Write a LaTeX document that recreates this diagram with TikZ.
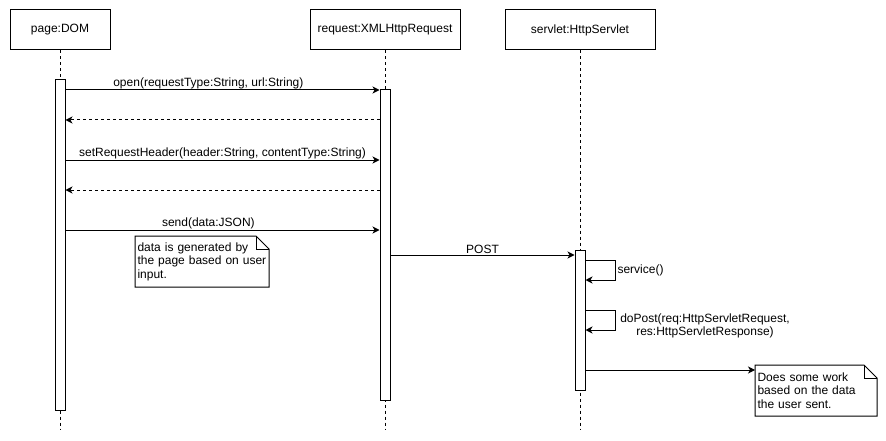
\documentclass[tikz,border=0pt]{standalone}
\usepackage{fontspec}
\setmainfont{Liberation Sans}
\usetikzlibrary{arrows.meta}
\begin{document}
\begin{tikzpicture}[x=1pt,y=-1pt,line width=1pt,
  font=\fontsize{12}{13.5}\selectfont,
  head/.style={draw,fill=white,minimum width=#1,minimum height=40,inner sep=0pt},
  act/.style={draw,fill=white,minimum width=10,minimum height=#1,inner sep=0pt},
  life/.style={line width=0.8pt,dash pattern=on 3pt off 3pt},
  msg/.style={-{Stealth[length=7pt,width=7pt,inset=2pt]}},
  ret/.style={msg,dash pattern=on 3pt off 3pt},
  lbl/.style={inner sep=1pt},
  note/.style={inner xsep=2pt,inner ysep=0pt,align=left,minimum height=50,anchor=north west}
]
\useasboundingbox (0,0) rectangle (886,441);
\fill[white] (0,0) rectangle (886,441);

% heads
\node[head=100] (dom) at (60,30) {page:DOM};
\node[head=150] (req) at (385,30) {request:XMLHttpRequest};
\node[head=150] (srv) at (580,30) {servlet:HttpServlet};

% lifeline ends
\coordinate (domend) at (60,430);
\coordinate (reqend) at (385,430);
\coordinate (srvend) at (580,430);
\draw[life] (dom.south) -- (domend);
\draw[life] (req.south) -- (reqend);
\draw[life] (srv.south) -- (srvend);

% activations
\node[act=330] (domact) at (60,245) {};
\node[act=310] (reqact) at (385,245) {};
\node[act=140] (srvact) at (580,320) {};

% levels
\coordinate (m1) at (0,90);
\coordinate (m2) at (0,120);
\coordinate (m3) at (0,160);
\coordinate (m4) at (0,190);
\coordinate (m5) at (0,230);
\coordinate (m6) at (0,255);
\coordinate (s1) at (0,260);
\coordinate (s1b) at (0,280);
\coordinate (s2) at (0,310);
\coordinate (s2b) at (0,330);
\coordinate (m7) at (0,370);

\draw[msg] (domact.east |- m1) -- (reqact.west |- m1) node[pos=0.455,above,lbl] {open(requestType:String, url:String)};
\draw[ret] (reqact.west |- m2) -- (domact.east |- m2);
\draw[msg] (domact.east |- m3) -- (reqact.west |- m3) node[midway,above,lbl] {setRequestHeader(header:String, contentType:String)};
\draw[ret] (reqact.west |- m4) -- (domact.east |- m4);
\draw[msg] (domact.east |- m5) -- (reqact.west |- m5) node[pos=0.455,above,lbl] {send(data:JSON)};
\draw[msg] (reqact.east |- m6) -- (srvact.west |- m6) node[midway,above,lbl] {POST};

% self calls
\draw[msg] (srvact.east |- s1) -- ++(30,0) -- ++(0,20) -- (srvact.east |- s1b);
\node[anchor=west,inner sep=1pt] (svc) at (616,270) {service()};
\draw[msg] (srvact.east |- s2) -- ++(30,0) -- ++(0,20) -- (srvact.east |- s2b);
\node[align=center,inner sep=0pt] (dopost) at (705,326) {doPost(req:HttpServletRequest,\\res:HttpServletResponse)};

% notes
\node[note,text width=129] (note1) at (135,236) {\mbox{data is generated by}\\\mbox{the page based on user}\\\mbox{input.}};
\draw (note1.north west) -- ([xshift=-13pt]note1.north east) -- ([yshift=-13pt]note1.north east) -- (note1.south east) -- (note1.south west) -- cycle;
\draw ([xshift=-13pt]note1.north east) -- ([xshift=-13pt,yshift=-13pt]note1.north east) -- ([yshift=-13pt]note1.north east);

\node[note,text width=117] (note2) at (755,365) {\mbox{Does some work}\\\mbox{based on the data}\\\mbox{the user sent.}};
\draw (note2.north west) -- ([xshift=-13pt]note2.north east) -- ([yshift=-13pt]note2.north east) -- (note2.south east) -- (note2.south west) -- cycle;
\draw ([xshift=-13pt]note2.north east) -- ([xshift=-13pt,yshift=-13pt]note2.north east) -- ([yshift=-13pt]note2.north east);

\draw[msg] (srvact.east |- m7) -- (note2.west |- m7);
\end{tikzpicture}
\end{document}
